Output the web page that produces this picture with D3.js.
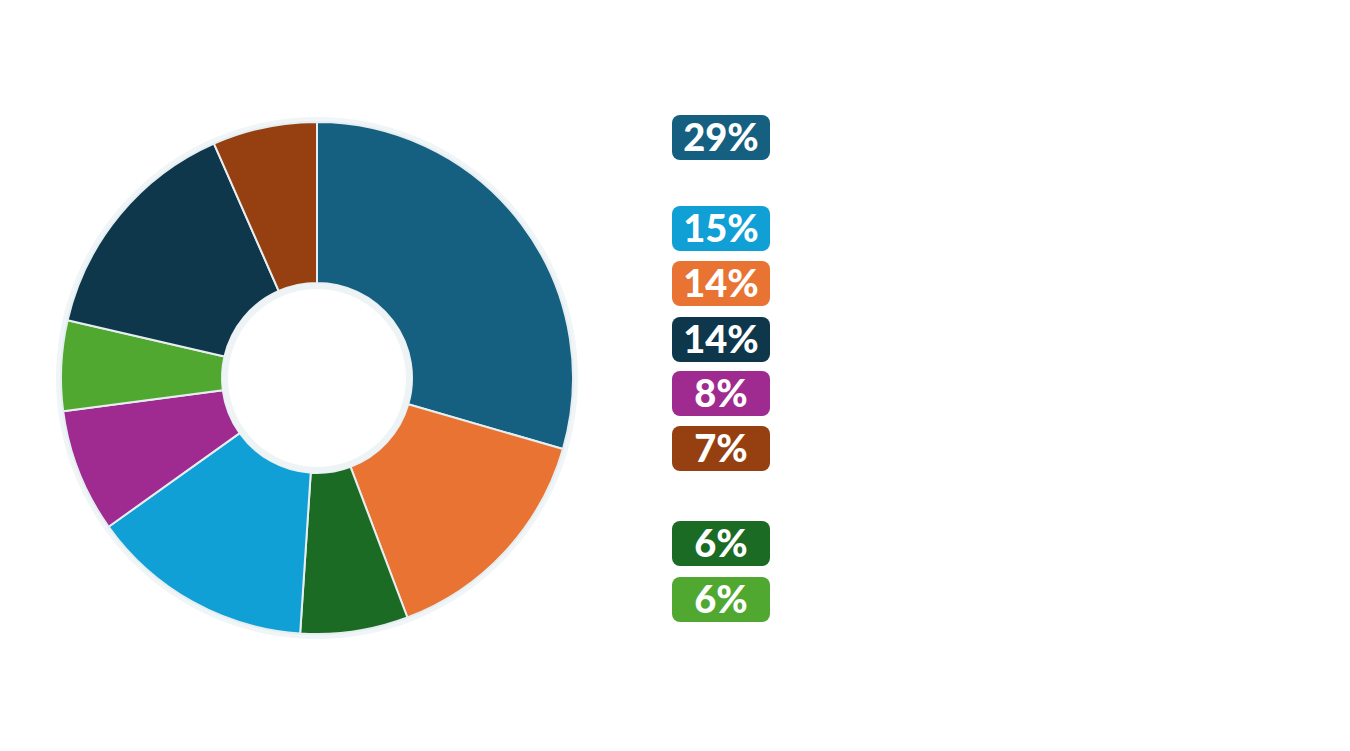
<!DOCTYPE html>
<html>
<head>
<meta charset="utf-8">
<script src="https://cdn.jsdelivr.net/npm/d3@7"></script>
<style>
  html, body { margin: 0; padding: 0; background: #ffffff; }
  svg { display: block; }
</style>
</head>
<body>
<svg class="donut" width="1350" height="751"></svg>
<script>
// slice order, clockwise from 12 o'clock
var categories = ["a", "b", "c", "d", "e", "f", "g", "h"];
var values = [29.5, 14.8, 6.8, 14.1, 7.8, 5.7, 14.8, 6.6];
var colors = ["#155f80", "#e97333", "#1b6b24", "#10a0d6", "#9f2a90", "#50a831", "#0e374b", "#963f10"];

// legend badges, top to bottom
var legendKeys = ["a", "d", "b", "g", "e", "h", "c", "f"];
var legendLabels = ["29%", "15%", "14%", "14%", "8%", "7%", "6%", "6%"];

window.onload = function() {
    var cx = 317, cy = 378,
        outerR = 256, innerR = 95;

    var svg = d3.select(".donut");
    var color = d3.scaleOrdinal().domain(categories).range(colors);

    var pie = d3.pie().sort(null).value(function(d) { return d.v; });
    var arc = d3.arc().innerRadius(innerR).outerRadius(outerR);

    var g = svg.append("g").attr("transform", "translate(" + cx + "," + cy + ")");

    // faint halo round the ring
    g.append("circle").attr("r", outerR + 5).attr("fill", "#f0f5f7");

    var rows = categories.map(function(c, i) { return { k: c, v: values[i] }; });

    g.selectAll("path").data(pie(rows))
        .enter().append("path")
        .attr("d", arc)
        .attr("fill", function(d) { return color(d.data.k); })
        .attr("stroke", "#e6eef1")
        .attr("stroke-width", 2)
        .attr("stroke-linejoin", "round");

    g.append("circle").attr("r", innerR).attr("fill", "#eef4f6");
    g.append("circle").attr("r", innerR - 6).attr("fill", "#ffffff");

    // legend
    var legendTops = [115, 206, 261, 317, 371, 426, 521, 577];
    var boxW = 98, boxH = 45, boxX = 672;

    var item = svg.selectAll("g.badge").data(legendKeys)
        .enter().append("g")
        .attr("class", "badge")
        .attr("transform", function(d, i) {
            return "translate(" + boxX + "," + legendTops[i] + ")";
        });

    item.append("rect")
        .attr("width", boxW)
        .attr("height", boxH)
        .attr("rx", 8)
        .attr("fill", function(d) { return color(d); });

    item.append("text")
        .attr("x", boxW / 2)
        .attr("y", boxH / 2 + 13)
        .attr("text-anchor", "middle")
        .attr("fill", "#ffffff")
        .style("font-family", "Lato, 'Open Sans', sans-serif")
        .style("font-weight", 900)
        .style("font-size", "38px")
        .text(function(d, i) { return legendLabels[i]; });
};
</script>
</body>
</html>
